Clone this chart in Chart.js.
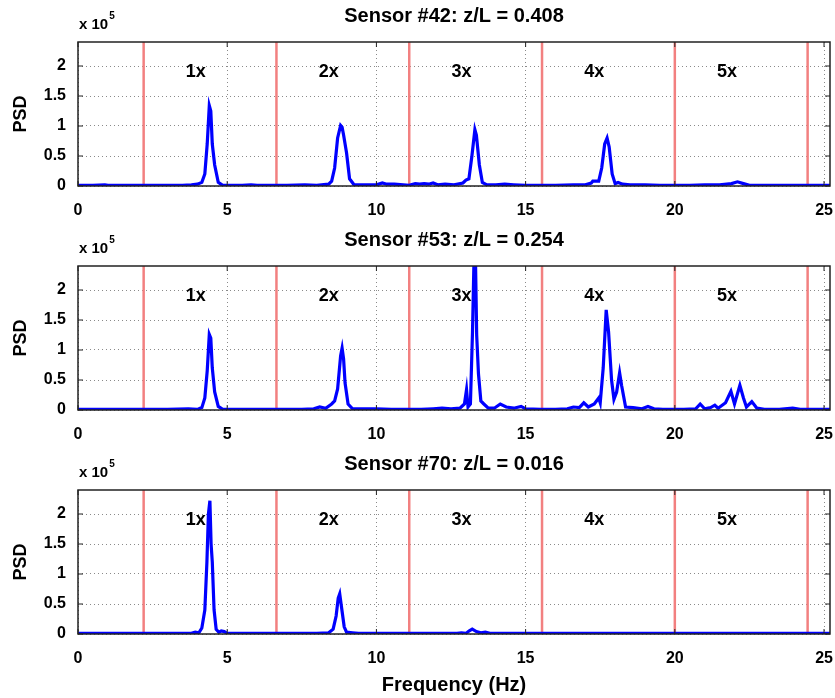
<!DOCTYPE html>
<html>
<head>
<meta charset="utf-8">
<script src="https://cdn.jsdelivr.net/npm/chart.js@4"></script>
<style>
body { margin: 0; background: #fff; }
.panel { position: absolute; left: 0; width: 835px; }
</style>
</head>
<body>
<div class="panel" style="top:0px"><canvas id="c42" width="835" height="224"></canvas></div>
<div class="panel" style="top:224px"><canvas id="c53" width="835" height="224"></canvas></div>
<div class="panel" style="top:448px"><canvas id="c70" width="835" height="250"></canvas></div>
<script>
// PSD values are in units of 1e5
const freq42 = [
    0, 0.5, 0.9, 1.0, 1.5, 2.5, 3.5, 3.8, 4.0, 4.15,
    4.25, 4.33, 4.4, 4.45, 4.5, 4.58, 4.7, 4.85, 5.5, 5.8,
    6.0, 7.0, 7.6, 8.0, 8.4, 8.5, 8.6, 8.7, 8.8, 8.85,
    8.9, 9.0, 9.1, 9.25, 9.6, 10.0, 10.2, 10.35, 10.6, 10.9,
    11.1, 11.3, 11.45, 11.6, 11.75, 11.9, 12.05, 12.3, 12.6, 12.9,
    13.0, 13.1, 13.2, 13.3, 13.35, 13.45, 13.55, 13.7, 14.0, 14.3,
    14.6, 15.0, 15.5, 16.0, 16.6, 17.0, 17.2, 17.25, 17.45, 17.55,
    17.65, 17.73, 17.8, 17.9, 18.0, 18.1, 18.25, 18.5, 19.0, 19.5,
    20.5, 21.0, 21.5, 21.9, 22.1, 22.3, 22.5, 23.0, 24.0, 25.2
];
const psd42 = [
    0.01, 0.01, 0.02, 0.01, 0.01, 0.01, 0.01, 0.02, 0.03, 0.06,
    0.2, 0.7, 1.34, 1.25, 0.7, 0.35, 0.06, 0.01, 0.01, 0.02,
    0.01, 0.01, 0.02, 0.01, 0.03, 0.08, 0.3, 0.8, 1.01, 0.98,
    0.85, 0.55, 0.12, 0.02, 0.02, 0.02, 0.05, 0.03, 0.03, 0.02,
    0.01, 0.04, 0.03, 0.04, 0.03, 0.05, 0.02, 0.03, 0.02, 0.05,
    0.1, 0.12, 0.5, 0.94, 0.85, 0.35, 0.06, 0.02, 0.02, 0.03,
    0.02, 0.01, 0.01, 0.01, 0.02, 0.02, 0.05, 0.08, 0.08, 0.3,
    0.7, 0.8, 0.65, 0.2, 0.04, 0.06, 0.03, 0.02, 0.02, 0.01,
    0.01, 0.02, 0.02, 0.04, 0.07, 0.04, 0.01, 0.01, 0.01, 0.01
];

const freq53 = [
    0, 1.0, 2.0, 3.0, 3.7, 4.0, 4.15, 4.25, 4.33, 4.4,
    4.45, 4.5, 4.58, 4.7, 4.85, 5.5, 6.5, 7.5, 7.9, 8.1,
    8.3, 8.5, 8.6, 8.7, 8.8, 8.85, 8.9, 8.95, 9.05, 9.2,
    9.6, 10.0, 10.5, 11.0, 11.5, 11.9, 12.2, 12.5, 12.8, 12.95,
    13.02, 13.07, 13.15, 13.22, 13.27, 13.32, 13.36, 13.42, 13.5, 13.6,
    13.75, 13.95, 14.15, 14.35, 14.6, 14.85, 15.0, 15.5, 16.0, 16.4,
    16.6, 16.8, 16.95, 17.1, 17.3, 17.45, 17.5, 17.6, 17.7, 17.78,
    17.88, 17.96, 18.05, 18.15, 18.22, 18.35, 18.6, 18.9, 19.1, 19.3,
    19.6, 20.3, 20.7, 20.85, 21.0, 21.2, 21.34, 21.45, 21.7, 21.88,
    22.0, 22.18, 22.3, 22.4, 22.58, 22.75, 23.0, 23.5, 23.95, 24.2,
    25.2
];
const psd53 = [
    0.01, 0.01, 0.01, 0.01, 0.02, 0.01, 0.04, 0.2, 0.65, 1.26,
    1.2, 0.7, 0.3, 0.06, 0.01, 0.01, 0.01, 0.01, 0.02, 0.05,
    0.03, 0.1, 0.15, 0.35, 0.9, 1.03, 0.85, 0.45, 0.1, 0.02,
    0.02, 0.02, 0.01, 0.01, 0.01, 0.02, 0.03, 0.02, 0.03, 0.1,
    0.34, 0.05, 0.1, 1.3, 2.5, 2.5, 1.25, 0.6, 0.15, 0.1,
    0.03, 0.03, 0.1, 0.05, 0.03, 0.06, 0.02, 0.01, 0.01, 0.02,
    0.05, 0.04, 0.12, 0.05, 0.1, 0.2, 0.12, 0.7, 1.67, 1.3,
    0.5, 0.18, 0.3, 0.62, 0.4, 0.05, 0.04, 0.02, 0.06, 0.02,
    0.01, 0.01, 0.02, 0.1, 0.02, 0.04, 0.08, 0.03, 0.12, 0.31,
    0.1, 0.41, 0.2, 0.05, 0.14, 0.03, 0.01, 0.01, 0.03, 0.01,
    0.01
];

const freq70 = [
    0, 1.0, 2.0, 3.0, 3.8, 3.93, 4.05, 4.15, 4.25, 4.32,
    4.37, 4.42, 4.46, 4.5, 4.56, 4.63, 4.72, 4.8, 4.9, 5.0,
    6.0, 7.0, 8.0, 8.4, 8.55, 8.65, 8.72, 8.77, 8.83, 8.92,
    9.0, 9.2, 9.4, 10.0, 11.0, 12.0, 12.7, 12.85, 13.0, 13.1,
    13.21, 13.35, 13.5, 13.65, 13.8, 15.0, 20.0, 25.2
];
const psd70 = [
    0.01, 0.01, 0.01, 0.01, 0.01, 0.03, 0.02, 0.1, 0.4, 1.2,
    2.0, 2.22, 1.5, 1.2, 0.4, 0.08, 0.03, 0.05, 0.04, 0.01,
    0.01, 0.01, 0.01, 0.02, 0.08, 0.3, 0.6, 0.67, 0.45, 0.12,
    0.03, 0.02, 0.01, 0.01, 0.01, 0.01, 0.01, 0.02, 0.01, 0.05,
    0.08, 0.04, 0.02, 0.03, 0.01, 0.01, 0.01, 0.01
];

// band limits between harmonics (Hz) and the harmonic labels
const bandEdges = [2.2, 6.65, 11.1, 15.55, 20.0, 24.45];
const harmonicNames = ['1x', '2x', '3x', '4x', '5x'];
const harmonicLabelFreq = [3.95, 8.4, 12.85, 17.3, 21.75];

const FONT = "'Liberation Sans', Arial, Helvetica, sans-serif";

const panelDeco = {
    id: 'panelDeco',
    afterDatasetsDraw(chart, args, opts) {
        const ctx = chart.ctx;
        const a = chart.chartArea;
        const xs = chart.scales.x, ys = chart.scales.y;
        ctx.save();

        // harmonic labels
        ctx.fillStyle = '#000';
        ctx.font = 'bold 18px ' + FONT;
        ctx.textAlign = 'center';
        ctx.textBaseline = 'middle';
        harmonicNames.forEach((n, i) => {
            ctx.fillText(n, xs.getPixelForValue(harmonicLabelFreq[i]), ys.getPixelForValue(1.9));
        });

        // box and inward ticks
        ctx.strokeStyle = '#222';
        ctx.lineWidth = 1.5;
        ctx.strokeRect(a.left, a.top, a.right - a.left, a.bottom - a.top);
        ctx.lineWidth = 1;
        ctx.beginPath();
        xs.ticks.forEach(t => {
            const px = xs.getPixelForValue(t.value);
            ctx.moveTo(px, a.bottom); ctx.lineTo(px, a.bottom - 5);
            ctx.moveTo(px, a.top); ctx.lineTo(px, a.top + 5);
        });
        ys.ticks.forEach(t => {
            const py = ys.getPixelForValue(t.value);
            ctx.moveTo(a.left, py); ctx.lineTo(a.left + 5, py);
            ctx.moveTo(a.right, py); ctx.lineTo(a.right - 5, py);
        });
        ctx.stroke();

        // panel title
        ctx.font = 'bold 20px ' + FONT;
        ctx.textBaseline = 'middle';
        ctx.fillText(opts.title, (a.left + a.right) / 2, 16);

        // exponent label
        ctx.textAlign = 'left';
        ctx.textBaseline = 'alphabetic';
        ctx.font = 'bold 15px ' + FONT;
        const base = 'x 10';
        ctx.fillText(base, a.left + 1, 29);
        const w = ctx.measureText(base).width;
        ctx.font = 'bold 10px ' + FONT;
        ctx.fillText('5', a.left + 1 + w + 1, 19);
        ctx.restore();
    }
};

function makePanel(id, title, freqs, psd, isBottom) {
    const datasets = [{
        data: freqs.map((f, i) => ({ x: f, y: psd[i] })),
        borderColor: '#0000ff',
        borderWidth: 3.2,
        pointRadius: 0,
        tension: 0
    }];
    bandEdges.forEach(f => {
        datasets.push({
            data: [{ x: f, y: 0 }, { x: f, y: 2.4 }],
            borderColor: 'rgb(242,128,128)',
            borderWidth: 2.5,
            pointRadius: 0
        });
    });

    new Chart(document.getElementById(id), {
        type: 'line',
        data: { datasets: datasets },
        plugins: [panelDeco],
        options: {
            responsive: false,
            animation: false,
            layout: { padding: { top: 42, right: 5, left: 0, bottom: 0 } },
            plugins: {
                legend: { display: false },
                tooltip: { enabled: false },
                panelDeco: { title: title }
            },
            scales: {
                x: {
                    type: 'linear',
                    min: 0,
                    max: 25.2,
                    border: { display: false, dash: [1, 3] },
                    grid: { color: '#8a8a8a', drawTicks: false },
                    ticks: {
                        stepSize: 5,
                        includeBounds: false,
                        padding: 15,
                        maxRotation: 0,
                        color: '#000',
                        font: { family: FONT, size: 16, weight: 'bold' }
                    },
                    title: {
                        display: isBottom,
                        text: 'Frequency (Hz)',
                        color: '#000',
                        font: { family: FONT, size: 20, weight: 'bold' },
                        padding: { top: 0, bottom: 1 }
                    },
                    afterFit: s => {
                        s.height = isBottom ? 64 : 38;
                        s.paddingLeft = 0;
                        s.paddingRight = 0;
                    }
                },
                y: {
                    min: 0,
                    max: 2.4,
                    border: { display: false, dash: [1, 3] },
                    grid: { color: '#8a8a8a', drawTicks: false },
                    ticks: {
                        stepSize: 0.5,
                        includeBounds: false,
                        padding: 12,
                        color: '#000',
                        font: { family: FONT, size: 16, weight: 'bold' },
                        callback: v => String(v)
                    },
                    title: {
                        display: true,
                        text: 'PSD',
                        color: '#000',
                        font: { family: FONT, size: 18, weight: 'bold' },
                        padding: { top: 10, bottom: 0 }
                    },
                    afterFit: s => { s.width = 78; }
                }
            }
        }
    });
}

makePanel('c42', 'Sensor #42: z/L = 0.408', freq42, psd42, false);
makePanel('c53', 'Sensor #53: z/L = 0.254', freq53, psd53, false);
makePanel('c70', 'Sensor #70: z/L = 0.016', freq70, psd70, true);
</script>
</body>
</html>
